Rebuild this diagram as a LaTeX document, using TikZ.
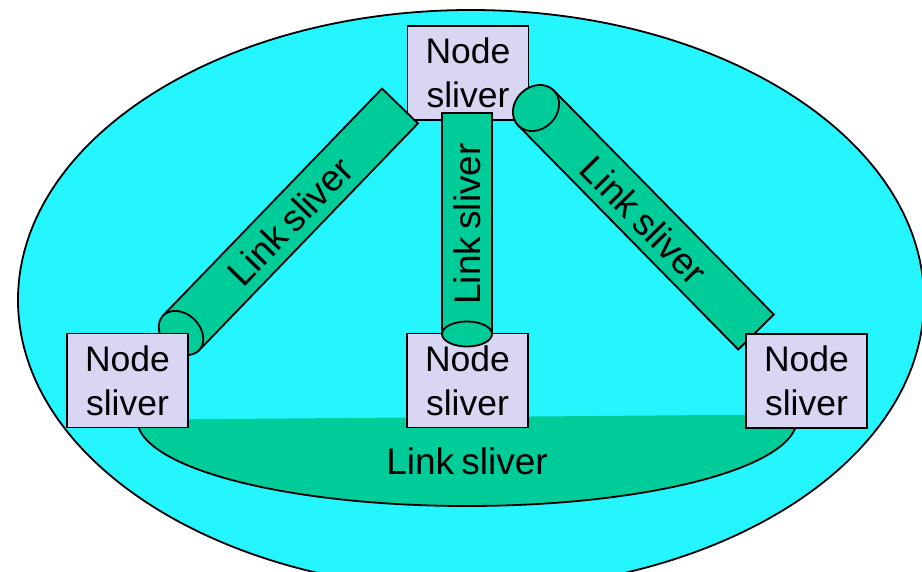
\documentclass[tikz,border=0pt]{standalone}
\usepackage{fontspec}
\setmainfont{Liberation Sans}
\definecolor{bgcyan}{RGB}{37,245,255}
\definecolor{linkgreen}{RGB}{0,204,153}
\definecolor{nodelav}{RGB}{216,214,243}
\newcommand{\lktext}{Link\hspace{-3pt} sliver}
\begin{document}
\begin{tikzpicture}[x=1pt,y=-1pt,
  outl/.style={draw=black,line width=1.8pt},
  nodebox/.style={outl,fill=nodelav,minimum width=121pt,minimum height=94pt,inner sep=0pt,align=center,font=\fontsize{35.5}{44}\selectfont},
  tube/.style={outl,fill=linkgreen,line join=miter},
  linktext/.style={font=\fontsize{37}{40}\selectfont,inner sep=0pt}]
\useasboundingbox (0,0) rectangle (922,571);
\clip (0,0) rectangle (922,571);
% domain
\filldraw[outl,fill=bgcyan] (471,300) ellipse [x radius=453, y radius=290];
% bottom link sliver
\begin{scope}
\clip (100,420) -- (840,414) -- (840,600) -- (100,600) -- cycle;
\filldraw[outl,fill=linkgreen] (467,419) ellipse [x radius=330, y radius=87];
\end{scope}
\node[linktext] (lbottom) at (467,461.5) {\lktext};
% top node
\node[nodebox] (ntop) at (468,73) {Node\\sliver};
% left tube
\filldraw[tube] (382,88.6) -- (418,123.4) -- (199,350.4) -- (163,315.6) -- cycle;
\filldraw[tube, rotate around={45.9:(181,333)}] (181,333) ellipse [x radius=19, y radius=25];
\node[linktext, rotate=45.9] (lleft) at (290,221) {\lktext};
% right tube
\filldraw[tube] (553.8,90.5) -- (773.8,314.5) -- (738.2,349.5) -- (518.2,125.5) -- cycle;
\filldraw[tube, rotate around={-45.5:(536,108)}] (536,108) ellipse [x radius=21, y radius=25];
\node[linktext, rotate=-45.5] (lright) at (644,220) {\lktext};
% lower nodes
\node[nodebox] (nleft) at (127.5,380.5) {Node\\sliver};
\node[nodebox] (nright) at (806.5,381) {Node\\sliver};
\node[nodebox] (nmid) at (467.5,380.5) {Node\\sliver};
% vertical tube
\filldraw[tube] (442,334) -- (442,113) -- (492,113) -- (492,334);
\filldraw[tube] (467,334) ellipse [x radius=25, y radius=12.5];
\node[linktext, rotate=90] (lmid) at (467,224) {\lktext};
\end{tikzpicture}
\end{document}
